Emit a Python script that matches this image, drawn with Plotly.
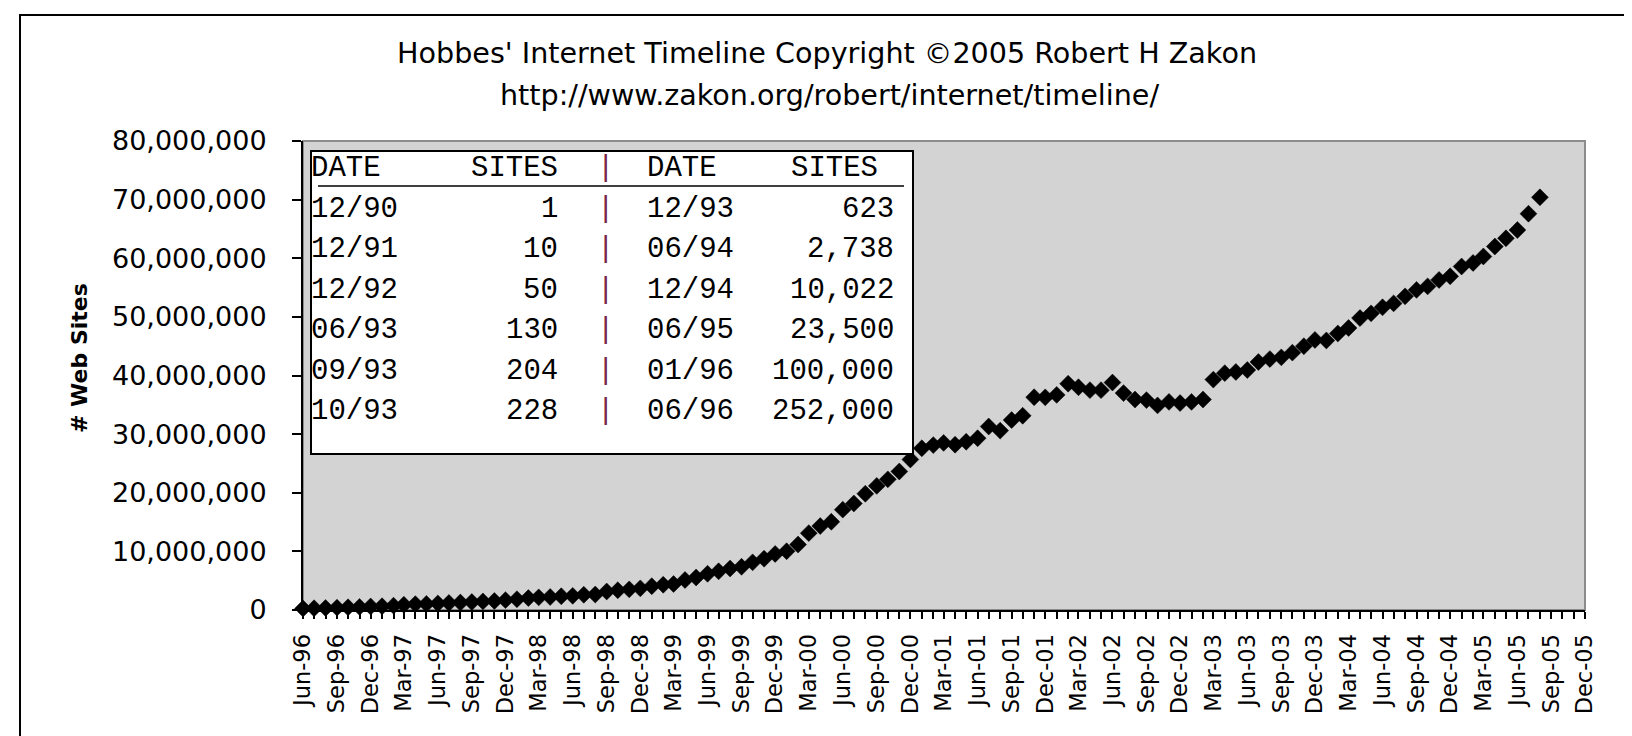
import pandas as pd
import plotly.graph_objects as go

# ---------------- data (web sites, monthly, Jun-96 .. Aug-05) ----------------
sites_1996 = [252000, 299403, 342081, 397281, 462047, 525906, 603367]  # Jun-Dec
sites_1997 = [646162, 739688, 883149, 1002612, 1044163, 1117255, 1203096,
              1269800, 1364714, 1466430, 1542000, 1681868]
sites_1998 = [1834710, 2035000, 2156000, 2220000, 2347000, 2410067, 2594000,
              2636000, 3156324, 3358969, 3518158, 3689227]
sites_1999 = [4062280, 4301512, 4435767, 5114724, 5550000, 6177453, 6598697,
              7078194, 7370929, 8130000, 8750000, 9560866]
sites_2000 = [10022511, 11161854, 13106190, 14322000, 15049000, 17119262,
              18169498, 19823296, 21166912, 22282727, 23626000, 25675581]
sites_2001 = [27585719, 28125248, 28500000, 28200000, 28700000, 29302656,
              31299592, 30600000, 32398046, 33135768, 36300000, 36276252]
sites_2002 = [36689008, 38600000, 38000000, 37500000, 37500000, 38800000,
              37000000, 35900000, 35800000, 34900000, 35500000, 35300000]
sites_2003 = [35500000, 35900000, 39300000, 40400000, 40600000, 40936076,
              42300000, 42800000, 43100000, 43900000, 45000000, 46067743]
sites_2004 = [45980000, 47170000, 48100000, 49800000, 50600000, 51635284,
              52300000, 53500000, 54600000, 55200000, 56300000, 56923737]
sites_2005 = [58600000, 59200000, 60300000, 62000000, 63400000, 64808485,
              67600000, 70392567]  # Jan-Aug

sites = (sites_1996 + sites_1997 + sites_1998 + sites_1999 + sites_2000 +
         sites_2001 + sites_2002 + sites_2003 + sites_2004 + sites_2005)
first_month = "1996-06-01"
months = pd.date_range(first_month, periods=len(sites), freq="MS")

# inset table
table_header = ["DATE", "SITES", "|", "DATE", "SITES"]
table_dates_left = ["12/90", "12/91", "12/92", "06/93", "09/93", "10/93"]
table_sites_left = ["1", "10", "50", "130", "204", "228"]
table_dates_right = ["12/93", "06/94", "12/94", "06/95", "01/96", "06/96"]
table_sites_right = ["623", "2,738", "10,022", "23,500", "100,000", "252,000"]

title_line1 = "Hobbes' Internet Timeline Copyright ©2005 Robert H Zakon"
title_line2 = "http://www.zakon.org/robert/internet/timeline/"
y_title = "# Web Sites"

# ---------------- geometry ----------------
W, H = 1632, 736
ML, MR, MT, MB = 295, 55, 133, 134
PW, PH = W - ML - MR, H - MT - MB


def px(x):
    return (x - ML) / PW


def py(y):
    return (H - MB - y) / PH


FONT = "DejaVu Sans"
MONO = "Liberation Mono"

fig = go.Figure()
fig.add_trace(go.Scatter(
    x=months, y=sites, mode="markers",
    marker=dict(symbol="diamond", size=13, color="black",
                line=dict(color="black", width=0.5)),
    cliponaxis=False, showlegend=False, hoverinfo="x+y"))

shapes = []
annotations = []

# outer chart border (right/bottom edges fall outside the picture)
shapes.append(dict(type="rect", xref="paper", yref="paper",
                   x0=px(12), x1=px(1640), y0=py(7), y1=py(745),
                   line=dict(color="black", width=2), layer="below"))
# plot area border (gray)
shapes.append(dict(type="rect", xref="paper", yref="paper",
                   x0=0, x1=1, y0=0, y1=1,
                   line=dict(color="#8c8c8c", width=2), layer="below"))
# table box
shapes.append(dict(type="rect", xref="paper", yref="paper",
                   x0=px(303), x1=px(905), y0=py(143), y1=py(446),
                   fillcolor="white", line=dict(color="black", width=2),
                   layer="above"))
# header underline
shapes.append(dict(type="line", xref="paper", yref="paper",
                   x0=px(310), x1=px(896), y0=py(178), y1=py(178),
                   line=dict(color="black", width=1.5), layer="above"))

# titles
annotations.append(dict(text=title_line1, xref="paper", yref="paper",
                        x=px(819), y=py(45), showarrow=False,
                        xanchor="center", yanchor="middle",
                        font=dict(family=FONT, size=28.6, color="black")))
annotations.append(dict(text=title_line2, xref="paper", yref="paper",
                        x=px(821), y=py(87), showarrow=False,
                        xanchor="center", yanchor="middle",
                        font=dict(family=FONT, size=28.6, color="black")))
annotations.append(dict(text="<b>" + y_title + "</b>", xref="paper", yref="paper",
                        x=px(71), y=py(350), showarrow=False, textangle=-90,
                        xanchor="center", yanchor="middle",
                        font=dict(family=FONT, size=22, color="black")))

# table text
col_anchor = ["left", "right", "center", "left", "right"]
head_x = [301, 552, 597, 637, 872]
cell_x = [301, 552, 597, 637, 888]
row_y0, row_dy = 160.5, 40.5
tfont = dict(family=MONO, size=29, color="black")
bar_font = dict(family=MONO, size=29, color="#7a2548")
for j, h in enumerate(table_header):
    annotations.append(dict(text=h, xref="paper", yref="paper",
                            x=px(head_x[j]), y=py(row_y0), showarrow=False,
                            xanchor=col_anchor[j], yanchor="middle",
                            font=bar_font if h == "|" else tfont))
for i in range(len(table_dates_left)):
    yy = py(row_y0 + (i + 1) * row_dy)
    cells = [table_dates_left[i], table_sites_left[i], "|",
             table_dates_right[i], table_sites_right[i]]
    for j, c in enumerate(cells):
        annotations.append(dict(text=c, xref="paper", yref="paper",
                                x=px(cell_x[j]), y=yy, showarrow=False,
                                xanchor=col_anchor[j], yanchor="middle",
                                font=bar_font if c == "|" else tfont))

fig.update_layout(
    width=W, height=H,
    margin=dict(l=ML, r=MR, t=MT, b=MB, pad=0),
    paper_bgcolor="white", plot_bgcolor="#d3d3d3",
    showlegend=False,
    shapes=shapes, annotations=annotations,
    xaxis=dict(type="date", range=["1996-06-01", "2005-12-01"],
               tickmode="linear", tick0="1996-06-01", dtick="M3",
               tickformat="%b-%y", tickangle=-90,
               ticks="outside", ticklen=7, tickwidth=1.5, tickcolor="black",
               minor=dict(dtick="M1", ticks="outside", ticklen=7,
                          tickwidth=1.5, tickcolor="black", showgrid=False),
               showline=True, linecolor="black", linewidth=2,
               showgrid=False, zeroline=False, ticklabelstandoff=6,
               tickfont=dict(family=FONT, size=22.5, color="black")),
    yaxis=dict(range=[0, 80e6], tickmode="linear", tick0=0, dtick=10e6,
               tickformat=",d", ticks="outside", ticklen=9, tickwidth=1.5,
               tickcolor="black", showline=True, linecolor="black",
               linewidth=2, showgrid=False, zeroline=False,
               ticklabelstandoff=20,
               tickfont=dict(family=FONT, size=27, color="black")),
)

fig.write_html("out.html")
